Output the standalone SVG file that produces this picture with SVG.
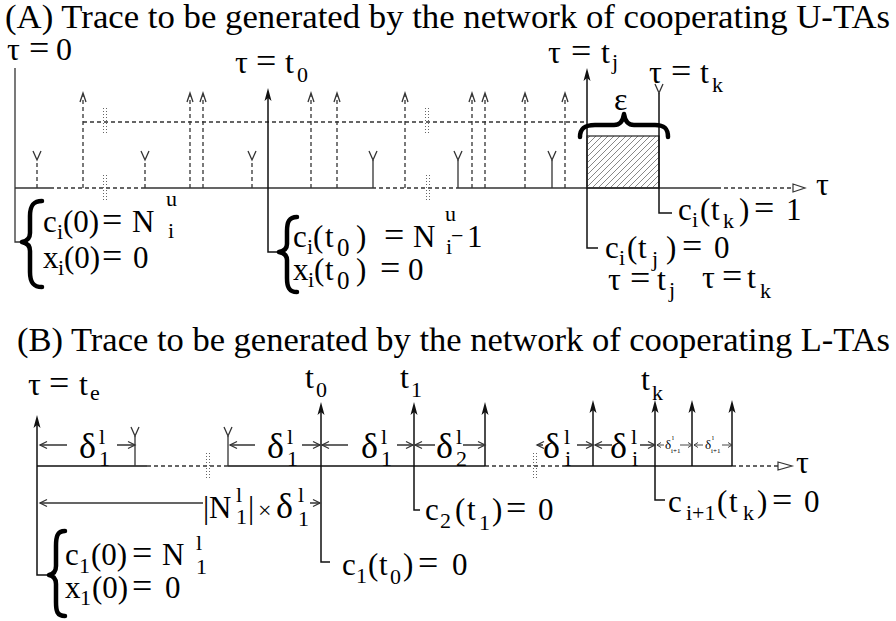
<svg xmlns="http://www.w3.org/2000/svg" width="896" height="621" viewBox="0 0 896 621">
<style>
text{font-family:"Liberation Serif","Times New Roman",serif;fill:#000}
.ti{font-size:33px}
.m{font-size:31px}
.g{font-size:32px}
.e{font-size:36px}
.s{font-size:22px}
.s25{font-size:25px}
.ss{font-size:7px}
.ln{stroke:#333;stroke-width:1.3;fill:none}
.dk{stroke:#111;stroke-width:1.5;fill:none}
.da{stroke-dasharray:4 3}
.dt{stroke:#555;stroke-width:0.9;stroke-dasharray:1 2;fill:none}
.br{stroke:#000;stroke-width:4.5;fill:none;stroke-linecap:round;stroke-linejoin:round}
.fh{fill:#111;stroke:none}
</style>
<defs>
<path id="fh" class="fh" d="M0,0 L-3.5,13 L0,10 L3.5,13 Z"/>
<path id="cu" class="ln" d="M-3,9 L0,0 L3,9"/>
<path id="yf" class="ln" d="M-4,-9 L0,0 L4,-9"/>
<path id="cl" class="ln" d="M7,-3.5 L0,0 L7,3.5"/>
<path id="cr" class="ln" d="M-7,-3.5 L0,0 L-7,3.5"/>
<path id="cls" class="ln" d="M4,-2.5 L0,0 L4,2.5" style="stroke-width:0.9"/>
<path id="crs" class="ln" d="M-4,-2.5 L0,0 L-4,2.5" style="stroke-width:0.9"/>
<g id="brk"><path class="dt" d="M-1.5,0 V26 M1.5,0 V26"/></g>
<pattern id="hatch" patternUnits="userSpaceOnUse" width="6" height="6">
<path d="M0,6 L6,0 M-1,1 L1,-1 M5,7 L7,5" stroke="#555" stroke-width="0.7"/>
</pattern>
</defs>

<text id="titleA" class="ti" x="5" y="28" textLength="885" lengthAdjust="spacingAndGlyphs">(A) Trace to be generated by the network of cooperating U-TAs</text>
<text id="titleB" class="ti" x="17" y="351" textLength="873" lengthAdjust="spacingAndGlyphs">(B) Trace to be generated by the network of cooperating L-TAs</text>

<g id="connectors">
<path class="ln" d="M15,68 V242 H22"/>
<path class="ln" d="M15,188 H50 M145,188 H372 M458,188 H717"/>
<path class="ln da" d="M50,188 H145 M372,188 H458 M717,188 H793"/>
<polygon points="793,184 805,188 793,192" fill="#fff" stroke="#333" stroke-width="1.2"/>
<path class="ln da" d="M83,122 H587"/>
<path class="ln da" d="M83,188 V94 M190,188 V94 M203,188 V94 M311,188 V94 M337,188 V94 M405,188 V94 M472,188 V94 M485,188 V94 M525,188 V94 M565,188 V94"/>
<use href="#cu" x="83" y="93"/><use href="#cu" x="190" y="93"/><use href="#cu" x="203" y="93"/>
<use href="#cu" x="311" y="93"/><use href="#cu" x="337" y="93"/><use href="#cu" x="405" y="93"/>
<use href="#cu" x="472" y="93"/><use href="#cu" x="485" y="93"/><use href="#cu" x="525" y="93"/><use href="#cu" x="565" y="93"/>
<path class="ln da" d="M37,188 V160 M145,188 V160 M252,188 V160"/>
<use href="#yf" x="37" y="160"/><use href="#yf" x="145" y="160"/><use href="#yf" x="252" y="160"/>
<path class="ln" d="M373,188 V160 M458,188 V160 M552,188 V160"/>
<use href="#yf" x="373" y="160"/><use href="#yf" x="458" y="160"/><use href="#yf" x="552" y="160"/>
<use href="#brk" x="105" y="108"/><use href="#brk" x="427" y="108"/>
<use href="#brk" x="105" y="175"/><use href="#brk" x="428" y="175"/>
<path class="dk" d="M268,96 V252 H279"/><use href="#fh" x="268" y="88"/>
<path class="dk" d="M587,76 V248 H598"/><use href="#fh" x="587" y="68"/>
<rect x="587" y="136" width="72" height="52" fill="url(#hatch)" stroke="#222" stroke-width="1.2"/>
<path class="dk" d="M659,93 V213 H672"/><use href="#yf" x="659" y="93"/>
<path class="br" d="M580,137 C580,128 585,125 595,125 L614,125 C620,125 623,121 624,114 C625,121 628,125 634,125 L655,125 C664,125 668,128 668,137"/>
<path class="br" d="M42,201 C33,201 30,206 30,216 L30,233 C30,238 27,241 22,242 C27,243 30,246 30,251 L30,272 C30,282 33,287 42,287"/>
<path class="br" d="M297,217 C289,217 287,222 287,231 L287,244 C287,249 284,251 279,252 C284,253 287,255 287,260 L287,278 C287,287 289,292 297,292"/>

<path class="dk" d="M37,423 V575 H48"/><use href="#fh" x="37" y="415"/>
<path class="dk" d="M37,466 H147 M228,466 H485 M563,466 H732"/>
<path class="ln da" d="M147,466 H228 M485,466 H563 M732,466 H778"/>
<polygon points="778,462 792,466 778,470" fill="#fff" stroke="#333" stroke-width="1.2"/>
<path class="ln" d="M135,466 V436 M228,466 V436"/>
<use href="#yf" x="135" y="436"/><use href="#yf" x="228" y="436"/>
<use href="#brk" x="208" y="453"/><use href="#brk" x="535" y="453"/>
<path class="dk" d="M321,410 V562 H330"/><use href="#fh" x="321" y="402"/>
<path class="dk" d="M414,410 V510 H420"/><use href="#fh" x="414" y="402"/>
<path class="dk" d="M485,410 V466"/><use href="#fh" x="485" y="402"/>
<path class="dk" d="M593,408 V466"/><use href="#fh" x="593" y="400"/>
<path class="dk" d="M655,408 V500 H665"/><use href="#fh" x="655" y="400"/>
<path class="dk" d="M692,408 V466"/><use href="#fh" x="692" y="400"/>
<path class="dk" d="M732,408 V466"/><use href="#fh" x="732" y="400"/>
<path class="ln" d="M40,445 H67 M117,445 H135 M230,445 H255 M302,445 H320 M322,445 H348 M397,445 H413 M415,445 H435 M463,445 H485 M537,445 H543 M577,445 H593 M595,445 H612 M640,445 H655"/>
<use href="#cl" x="40" y="445"/><use href="#cr" x="135" y="445"/>
<use href="#cl" x="230" y="445"/><use href="#cr" x="320" y="445"/>
<use href="#cl" x="322" y="445"/><use href="#cr" x="413" y="445"/>
<use href="#cl" x="415" y="445"/><use href="#cr" x="485" y="445"/>
<use href="#cl" x="537" y="445"/><use href="#cr" x="593" y="445"/>
<use href="#cl" x="595" y="445"/><use href="#cr" x="655" y="445"/>
<path class="ln" style="stroke-width:0.9" d="M657,445 H664 M680,445 H692 M694,445 H703 M722,445 H732"/>
<use href="#cls" x="657" y="445"/><use href="#crs" x="692" y="445"/>
<use href="#cls" x="694" y="445"/><use href="#crs" x="732" y="445"/>
<path class="ln" d="M40,503 H203 M310,503 H320"/>
<use href="#cl" x="40" y="503"/><use href="#cr" x="320" y="503"/>
<path class="br" d="M65,531 C57,531 56,537 56,546 L56,566 C56,571 54,574 49,575 C54,576 56,579 56,584 L56,602 C56,611 57,616 65,616"/>
</g>

<g id="lblTau0"><text class="g"><tspan x="7" y="60">τ</tspan><tspan class="e" x="29" y="60">=</tspan><tspan x="56" y="60">0</tspan></text></g>
<g id="lblTauT0"><text class="g"><tspan x="235" y="73">τ</tspan><tspan class="e" x="256" y="73">=</tspan><tspan x="285" y="73">t</tspan><tspan class="s" x="297" y="82">0</tspan></text></g>
<g id="lblTauTj"><text class="g"><tspan x="548" y="63">τ</tspan><tspan class="e" x="571" y="63">=</tspan><tspan x="601" y="63">t</tspan><tspan class="s" x="612" y="69">j</tspan></text></g>
<g id="lblTauTk"><text class="g"><tspan x="649" y="83">τ</tspan><tspan class="e" x="671" y="83">=</tspan><tspan x="700" y="83">t</tspan><tspan class="s" x="712" y="92">k</tspan></text></g>
<g id="lblEps"><text class="g" x="614" y="110">ε</text></g>
<g id="lblTauAxisA"><text class="g" x="816" y="195">τ</text></g>

<g id="eqA0">
<text class="m"><tspan x="43" y="232">c</tspan><tspan class="s" x="57" y="239">i</tspan><tspan x="63" y="232">(0)</tspan><tspan class="e" x="102" y="232">=</tspan><tspan x="132" y="232">N</tspan><tspan class="s" x="166" y="206">u</tspan><tspan class="s" x="168" y="238">i</tspan></text>
<text class="m"><tspan x="43" y="268">x</tspan><tspan class="s" x="58" y="275">i</tspan><tspan x="64" y="268">(0)</tspan><tspan class="e" x="102" y="268">=</tspan><tspan x="133" y="268">0</tspan></text>
</g>
<g id="eqAt0">
<text class="m"><tspan x="293" y="247">c</tspan><tspan class="s" x="307" y="254">i</tspan><tspan x="313" y="247">(</tspan><tspan x="325" y="247">t</tspan><tspan class="s25" x="337" y="256">0</tspan><tspan x="356" y="247">)</tspan><tspan class="e" x="384" y="247">=</tspan><tspan x="413" y="247">N</tspan><tspan class="s" x="445" y="221">u</tspan><tspan class="s" x="446" y="254">i</tspan><tspan class="s" x="451" y="243">−</tspan><tspan x="467" y="247">1</tspan></text>
<text class="m"><tspan x="293" y="280">x</tspan><tspan class="s" x="308" y="287">i</tspan><tspan x="314" y="280">(</tspan><tspan x="325" y="280">t</tspan><tspan class="s25" x="337" y="289">0</tspan><tspan x="356" y="280">)</tspan><tspan class="e" x="380" y="280">=</tspan><tspan x="408" y="280">0</tspan></text>
</g>
<g id="eqAtk">
<text class="m"><tspan x="678" y="220">c</tspan><tspan class="s" x="692" y="227">i</tspan><tspan x="700" y="220">(</tspan><tspan x="711" y="220">t</tspan><tspan class="s" x="723" y="228">k</tspan><tspan x="739" y="220">)</tspan><tspan class="e" x="754" y="220">=</tspan><tspan x="786" y="220">1</tspan></text>
</g>
<g id="eqAtj">
<text class="m"><tspan x="605" y="258">c</tspan><tspan class="s" x="619" y="265">i</tspan><tspan x="627" y="258">(</tspan><tspan x="638" y="258">t</tspan><tspan class="s" x="652" y="266">j</tspan><tspan x="666" y="258">)</tspan><tspan class="e" x="682" y="258">=</tspan><tspan x="714" y="258">0</tspan></text>
</g>
<g id="lblTauTjB"><text class="g"><tspan x="608" y="290">τ</tspan><tspan class="e" x="630" y="290">=</tspan><tspan x="657" y="290">t</tspan><tspan class="s" x="669" y="297">j</tspan></text></g>
<g id="lblTauTkB"><text class="g"><tspan x="702" y="288">τ</tspan><tspan class="e" x="722" y="288">=</tspan><tspan x="747" y="288">t</tspan><tspan class="s" x="760" y="298">k</tspan></text></g>

<g id="lblTauTe"><text class="g"><tspan x="28" y="395">τ</tspan><tspan class="e" x="49" y="395">=</tspan><tspan x="79" y="395">t</tspan><tspan class="s" x="90" y="400">e</tspan></text></g>
<g id="lblT0"><text class="g"><tspan x="305" y="388">t</tspan><tspan class="s" x="316" y="397">0</tspan></text></g>
<g id="lblT1"><text class="g"><tspan x="400" y="388">t</tspan><tspan class="s" x="411" y="397">1</tspan></text></g>
<g id="lblTk"><text class="g"><tspan x="641" y="390">t</tspan><tspan class="s" x="652" y="400">k</tspan></text></g>
<g id="lblTauAxisB"><text class="g" x="796" y="473">τ</text></g>

<g id="deltas">
<text class="e"><tspan x="79" y="458">δ</tspan><tspan class="s" x="99" y="444">l</tspan><tspan class="s" x="99" y="466">1</tspan></text>
<text class="e"><tspan x="267" y="458">δ</tspan><tspan class="s" x="287" y="444">l</tspan><tspan class="s" x="287" y="466">1</tspan></text>
<text class="e"><tspan x="361" y="458">δ</tspan><tspan class="s" x="381" y="444">l</tspan><tspan class="s" x="381" y="466">1</tspan></text>
<text class="e"><tspan x="436" y="458">δ</tspan><tspan class="s" x="456" y="444">l</tspan><tspan class="s" x="456" y="466">2</tspan></text>
<text class="e"><tspan x="543" y="458">δ</tspan><tspan class="s" x="564" y="444">l</tspan><tspan class="s" x="565" y="466">i</tspan></text>
<text class="e"><tspan x="610" y="458">δ</tspan><tspan class="s" x="631" y="444">l</tspan><tspan class="s" x="632" y="466">i</tspan></text>
<text style="font-size:13px"><tspan x="665" y="449">δ</tspan><tspan class="ss" x="672" y="440">l</tspan><tspan class="ss" x="671" y="453">i+1</tspan></text>
<text style="font-size:13px"><tspan x="705" y="449">δ</tspan><tspan class="ss" x="712" y="440">l</tspan><tspan class="ss" x="711" y="453">i+1</tspan></text>
</g>
<g id="lblNdelta">
<text class="m"><tspan x="203" y="518">|</tspan><tspan x="209" y="518">N</tspan><tspan class="s" x="236" y="502">l</tspan><tspan class="s" x="236" y="524">1</tspan><tspan x="248" y="518">|</tspan><tspan x="258" y="518" style="font-size:24px">×</tspan><tspan class="e" x="276" y="518">δ</tspan><tspan class="s" x="298" y="502">l</tspan><tspan class="s" x="298" y="526">1</tspan></text>
</g>
<g id="eqB0">
<text class="m"><tspan x="65" y="565">c</tspan><tspan class="s" x="79" y="573">1</tspan><tspan x="91" y="565">(0)</tspan><tspan class="e" x="132" y="565">=</tspan><tspan x="162" y="565">N</tspan><tspan class="s" x="196" y="550">l</tspan><tspan class="s" x="196" y="574">1</tspan></text>
<text class="m"><tspan x="65" y="598">x</tspan><tspan class="s" x="80" y="605">1</tspan><tspan x="92" y="598">(0)</tspan><tspan class="e" x="132" y="598">=</tspan><tspan x="165" y="598">0</tspan></text>
</g>
<g id="eqBt0">
<text class="m"><tspan x="342" y="575">c</tspan><tspan class="s" x="356" y="583">1</tspan><tspan x="368" y="575">(</tspan><tspan x="379" y="575">t</tspan><tspan class="s" x="390" y="584">0</tspan><tspan x="403" y="575">)</tspan><tspan class="e" x="418" y="575">=</tspan><tspan x="452" y="575">0</tspan></text>
</g>
<g id="eqBt1">
<text class="m"><tspan x="425" y="520">c</tspan><tspan class="s" x="440" y="528">2</tspan><tspan x="455" y="520">(</tspan><tspan x="467" y="520">t</tspan><tspan class="s" x="479" y="530">1</tspan><tspan x="492" y="520">)</tspan><tspan class="e" x="506" y="520">=</tspan><tspan x="538" y="520">0</tspan></text>
</g>
<g id="eqBtk">
<text class="m"><tspan x="668" y="512">c</tspan><tspan class="s" x="686" y="520">i+1</tspan><tspan x="717" y="512">(</tspan><tspan x="729" y="512">t</tspan><tspan class="s" x="743" y="520">k</tspan><tspan x="757" y="512">)</tspan><tspan class="e" x="772" y="512">=</tspan><tspan x="804" y="512">0</tspan></text>
</g>
</svg>
